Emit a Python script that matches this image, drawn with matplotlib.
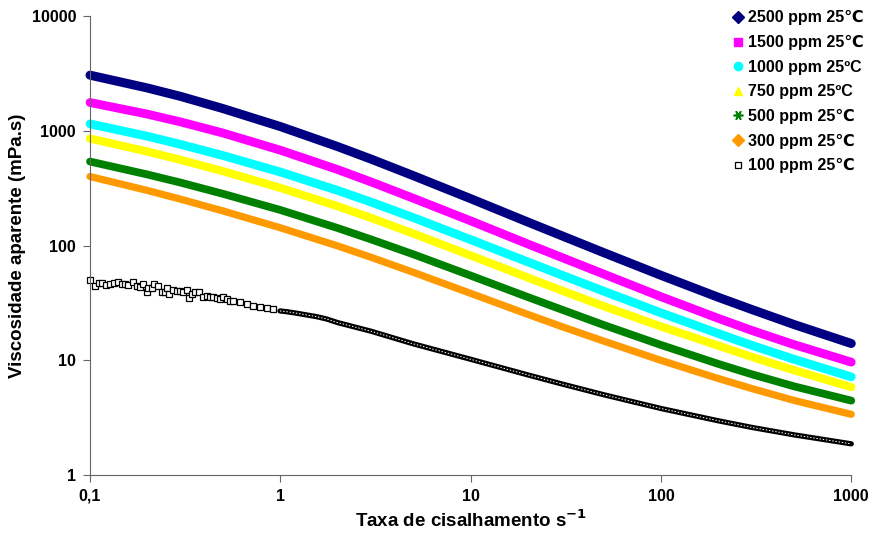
import numpy as np
import matplotlib
matplotlib.use('Agg')
import matplotlib.pyplot as plt
from matplotlib.lines import Line2D

plt.rcParams['font.family'] = ['Liberation Sans', 'DejaVu Sans']
plt.rcParams['font.weight'] = 'bold'

# shear rate (1/s) where the smooth curves were read
shear = [0.1, 0.2, 0.3, 0.5, 1, 2, 3, 5, 10, 20, 30, 50, 100, 200, 300, 500, 1000]

visc_2500 = [3050, 2360, 1990, 1560, 1088, 728, 566, 406, 256, 160, 122, 86.7, 55.0, 35.4, 27.7, 20.5, 14.0]
visc_1500 = [1762, 1397, 1193, 955, 677, 459, 358, 258, 164, 103, 78.9, 56.4, 35.8, 23.2, 18.2, 13.7, 9.63]
visc_1000 = [1148, 896, 760, 608, 437, 302, 239, 175, 112.5, 71.9, 55.4, 40.0, 25.9, 17.1, 13.5, 10.2, 7.17]
visc_750 = [855, 659, 557, 444, 318, 220, 174, 127, 81.9, 52.5, 40.6, 29.6, 19.7, 13.4, 10.7, 8.19, 5.83]
visc_500 = [539, 416, 353, 282, 204, 142, 113, 83.8, 54.7, 35.5, 27.7, 20.3, 13.6, 9.30, 7.55, 5.93, 4.45]
visc_300 = [399, 302, 253, 200, 142.8, 99.2, 78.9, 58.4, 38.3, 25.1, 19.7, 14.7, 9.98, 6.94, 5.67, 4.47, 3.38]

# 100 ppm: noisy at low shear
shear_100 = [0.100, 0.106, 0.111, 0.115, 0.122, 0.127, 0.133, 0.141, 0.147, 0.153,
             0.159, 0.169, 0.176, 0.182, 0.189, 0.199, 0.202, 0.211, 0.217, 0.229,
             0.238, 0.248, 0.255, 0.261, 0.272, 0.286, 0.297, 0.309, 0.322, 0.333,
             0.342, 0.356, 0.375, 0.394, 0.410, 0.427, 0.445, 0.463, 0.482, 0.502,
             0.523, 0.544, 0.567, 0.614, 0.666, 0.722, 0.782, 0.848, 0.920, 0.996,
             1.08, 1.22, 1.38, 1.55, 1.75, 2, 3, 5, 10, 20, 30, 50, 100, 200, 300,
             500, 1000]
visc_100 = [50.1, 44.4, 46.9, 46.9, 45.3, 45.9, 46.9, 47.9, 46.3, 45.9,
            45.3, 47.9, 44.7, 43.8, 45.9, 39.6, 42.9, 42.4, 45.9, 44.7,
            39.2, 39.6, 42.4, 37.6, 41.0, 40.5, 40.5, 39.6, 41.0, 35.2,
            37.6, 39.2, 39.6, 35.9, 36.6, 35.6, 35.9, 34.7, 34.2, 35.9,
            34.2, 32.9, 32.9, 32.0, 30.8, 29.9, 29.3, 28.7, 28.0, 26.9,
            26.5, 25.7, 24.8, 24.0, 22.9, 21.3, 17.9, 13.9, 10.2, 7.45, 6.23, 5.01,
            3.80, 2.97, 2.60, 2.24, 1.87]

labels = ['2500 ppm 25\u2103', '1500 ppm 25\u2103', '1000 ppm 25\u00baC',
          '750 ppm 25\u00baC', '500 ppm 25\u2103', '300 ppm 25\u2103', '100 ppm 25\u2103']
colors = ['#000080', '#FF00FF', '#00FFFF', '#FFFF00', '#008000', '#FF9900', 'black']
markers = ['D', 's', 'o', '^', (6, 2, 90), 'D', 's']
widths = [6.5, 6.3, 6.3, 5.9, 5.6, 5.2]

fig = plt.figure(figsize=(8.73, 5.35), dpi=100)
ax = fig.add_axes([0.1031, 0.1121, 0.872, 0.858])

series = [visc_2500, visc_1500, visc_1000, visc_750, visc_500, visc_300]
for v, c, w in zip(series, colors, widths):
    ax.plot(shear, v, color=c, lw=w, solid_capstyle='round', solid_joinstyle='round',
            clip_on=False)

# 100 ppm
i1 = shear_100.index(0.996)
ax.plot(shear_100[i1:], visc_100[i1:], color='black', lw=3.8, solid_capstyle='round',
        clip_on=False)
ax.plot(shear_100[i1:], visc_100[i1:], color='white', lw=0.7, ls=(0, (1.5, 1.8)))
ax.plot(shear_100[:i1], visc_100[:i1], ls='none', marker='s', ms=4.6,
        mfc='white', mec='black', mew=0.9, clip_on=False)

ax.set_xscale('log')
ax.set_yscale('log')
ax.set_xlim(0.1, 1000)
ax.set_ylim(1, 10000)
ax.set_xticks([0.1, 1, 10, 100, 1000])
ax.set_xticklabels(['0,1', '1', '10', '100', '1000'])
ax.set_yticks([1, 10, 100, 1000, 10000])
ax.set_yticklabels(['1', '10', '100', '1000', '10000'])
ax.minorticks_off()
for s in ['top', 'right']:
    ax.spines[s].set_visible(False)
for s in ['left', 'bottom']:
    ax.spines[s].set_color('#666666')
ax.tick_params(length=5, color='#666666', labelsize=11.5, pad=5)

ax.set_xlabel('Taxa de cisalhamento s$^{\\mathbf{-1}}$', fontsize=13.5, fontweight='bold', labelpad=4)
ax.set_ylabel('Viscosidade aparente (mPa.s)', fontsize=13.5, fontweight='bold', labelpad=4)

handles = [Line2D([], [], ls='none', marker=m, color=c, ms=6) for m, c in zip(markers, colors)]
handles[-1] = Line2D([], [], ls='none', marker='s', ms=4.5, mfc='white', mec='black', mew=0.9)
handles[4] = Line2D([], [], ls='none', marker=(6, 2, 90), color='#008000', ms=7, mew=1.2)
fig.legend(handles, labels, loc='upper left', bbox_to_anchor=(0.828, 1.0), frameon=False,
           fontsize=11.5, handlelength=0.6, handletextpad=0.35, labelspacing=0.6,
           borderpad=0.15)

fig.savefig('out.png', dpi=100)
